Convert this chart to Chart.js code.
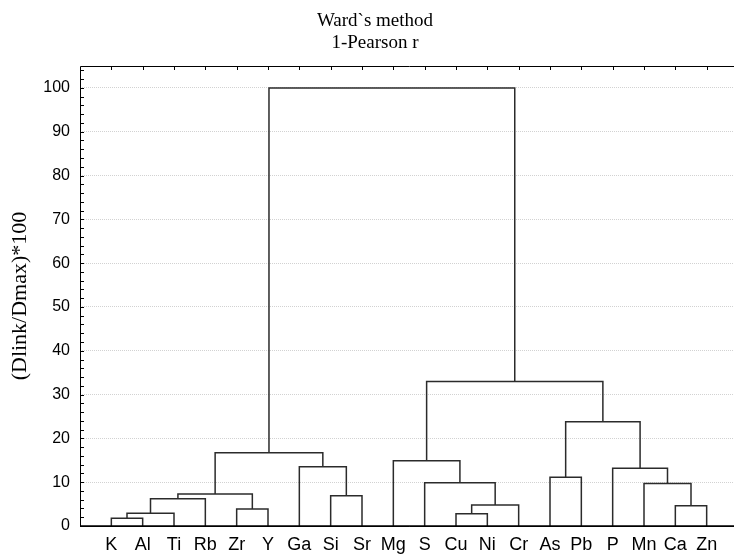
<!DOCTYPE html>
<html>
<head>
    <meta charset="UTF-8">
    <title>Ward`s method</title>
    <script src="https://cdn.jsdelivr.net/npm/chart.js"></script>
    <style>
        html, body {
            margin: 0;
            padding: 0;
            background: #fff;
            overflow: hidden;
        }

        #wrap {
            position: relative;
            width: 740px;
            height: 554px;
        }
    </style>
</head>
<body>
<div id="wrap">
    <canvas id="chart"></canvas>
</div>

<script>
    // leaves in dendrogram order
    const leaves = ["K", "Al", "Ti", "Rb", "Zr", "Y", "Ga", "Si", "Sr", "Mg",
        "S", "Cu", "Ni", "Cr", "As", "Pb", "P", "Mn", "Ca", "Zn"];

    // linkage: ids < 20 are leaves, merge k creates cluster id 20 + k
    const mergeA = [0, 11, 20, 4, 18, 21, 22, 7, 26, 17, 10, 14, 16, 6, 9, 28, 31, 34, 35];
    const mergeB = [1, 12, 2, 5, 19, 13, 3, 8, 23, 24, 25, 15, 29, 27, 30, 33, 32, 36, 37];
    const mergeHeight = [1.75, 2.8, 2.9, 3.9, 4.6, 4.8, 6.2, 6.9, 7.3, 9.7,
        9.9, 11.1, 13.2, 13.5, 14.9, 16.7, 23.8, 33.0, 100];

    const yTicks = [0, 10, 20, 30, 40, 50, 60, 70, 80, 90, 100];

    // node position (leaf index units) and height
    const nodeX = leaves.map((_, i) => i);
    const nodeH = leaves.map(() => 0);
    const datasets = [];
    for (let k = 0; k < mergeHeight.length; k++) {
        const a = mergeA[k], b = mergeB[k], h = mergeHeight[k];
        datasets.push({
            data: [
                {x: nodeX[a], y: nodeH[a]},
                {x: nodeX[a], y: h},
                {x: nodeX[b], y: h},
                {x: nodeX[b], y: nodeH[b]}
            ],
            borderColor: "#2b2b2b",
            borderWidth: 1.5,
            pointRadius: 0,
            fill: false,
            tension: 0
        });
        nodeX.push((nodeX[a] + nodeX[b]) / 2);
        nodeH.push(h);
    }

    const frame = {
        id: "frame",
        afterDraw(chart) {
            const ctx = chart.ctx;
            const area = chart.chartArea;
            const xs = chart.scales.x, ys = chart.scales.y;
            ctx.save();
            ctx.strokeStyle = "#000";
            ctx.lineWidth = 1;
            ctx.beginPath();
            ctx.rect(area.left + 0.5, area.top + 0.5, area.right - area.left, area.bottom - area.top);
            ctx.stroke();
            ctx.beginPath();
            // minor ticks every 2 on left and right, pointing inward
            for (let v = 0; v <= ys.max; v += 2) {
                const py = Math.round(ys.getPixelForValue(v)) + 0.5;
                ctx.moveTo(area.left, py);
                ctx.lineTo(area.left + 4, py);
                ctx.moveTo(area.right, py);
                ctx.lineTo(area.right - 4, py);
            }
            // top ticks at leaves
            leaves.forEach((_, i) => {
                const px = Math.round(xs.getPixelForValue(i)) + 0.5;
                ctx.moveTo(px, area.top);
                ctx.lineTo(px, area.top + 4);
            });
            ctx.stroke();
            ctx.lineWidth = 1.5;
            ctx.beginPath();
            ctx.moveTo(area.left, area.bottom);
            ctx.lineTo(area.right, area.bottom);
            ctx.stroke();

            ctx.fillStyle = "#000";
            ctx.font = "19px 'Liberation Serif', 'Times New Roman', serif";
            ctx.textAlign = "center";
            ctx.textBaseline = "middle";
            ctx.fillText("Ward`s method", 375, 21);
            ctx.fillText("1-Pearson r", 375, 43);
            ctx.restore();
        }
    };

    new Chart(document.getElementById("chart"), {
        type: "line",
        data: {datasets: datasets},
        plugins: [frame],
        options: {
            responsive: true,
            maintainAspectRatio: false,
            animation: false,
            layout: {padding: {top: 66, right: 2, left: 0, bottom: 0}},
            plugins: {
                legend: {display: false},
                tooltip: {enabled: false},
                title: {display: false}
            },
            scales: {
                x: {
                    type: "linear",
                    min: -1,
                    max: 20,
                    afterBuildTicks: s => { s.ticks = leaves.map((_, i) => ({value: i})); },
                    afterFit: s => { s.height = 28; },
                    grid: {display: false, drawTicks: false},
                    border: {display: false},
                    ticks: {
                        autoSkip: false,
                        maxRotation: 0,
                        padding: 8,
                        color: "#000",
                        font: {family: "'Liberation Sans', Arial, sans-serif", size: 18},
                        callback: v => leaves[v]
                    }
                },
                y: {
                    min: 0,
                    max: 105,
                    afterBuildTicks: s => { s.ticks = yTicks.map(v => ({value: v})); },
                    afterFit: s => { s.width = 80; },
                    grid: {
                        drawTicks: false,
                        color: c => c.tick && c.tick.value === 0 ? "rgba(0,0,0,0)" : "#d2d2d2",
                        lineWidth: 1
                    },
                    border: {display: false, dash: [1, 1]},
                    ticks: {
                        padding: 10,
                        color: "#000",
                        font: {family: "'Liberation Sans', Arial, sans-serif", size: 16}
                    },
                    title: {
                        display: true,
                        text: "(Dlink/Dmax)*100",
                        color: "#000",
                        padding: {top: 9, bottom: 0},
                        font: {family: "'Liberation Serif', 'Times New Roman', serif", size: 22, lineHeight: 1}
                    }
                }
            }
        }
    });
</script>
</body>
</html>
